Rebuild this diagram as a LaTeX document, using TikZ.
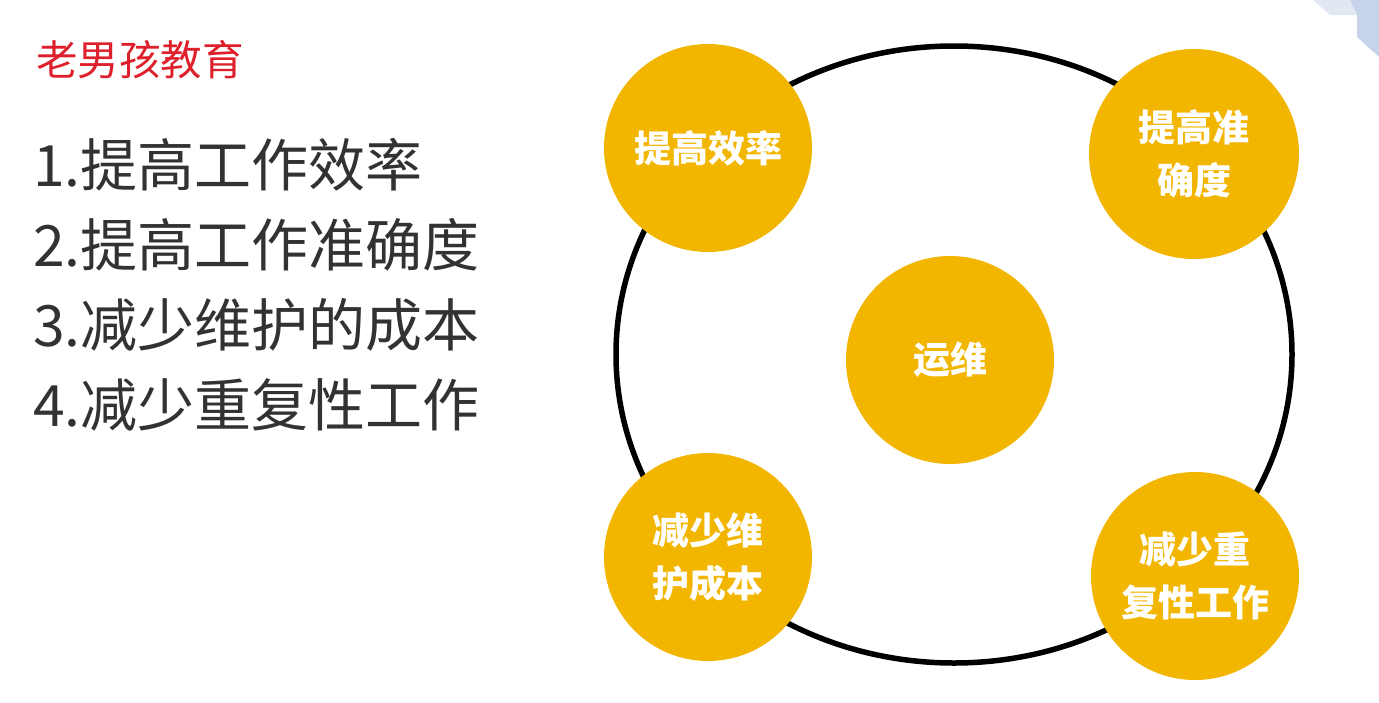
\documentclass[tikz,border=0pt]{standalone}
\usepackage{fontspec}
\newfontfamily\cjk{Noto Sans CJK SC}
\usetikzlibrary{shapes.geometric}
\definecolor{gold}{RGB}{242,182,0}
\definecolor{titlered}{RGB}{222,32,44}
\definecolor{listgray}{RGB}{50,50,50}
\definecolor{decolight}{RGB}{226,232,242}
\definecolor{decodark}{RGB}{198,211,232}
\tikzset{
  ball/.style={circle, fill=gold, draw=none, inner sep=0pt, minimum size=208pt,
    text=white, align=center, font=\cjk\bfseries\fontsize{37}{53}\selectfont},
  listitem/.style={anchor=west, inner sep=0pt, text=listgray,
    font=\cjk\fontsize{57}{60}\selectfont},
  ring/.style={ellipse, draw=black, line width=5.5pt, inner sep=0pt,
    minimum width=676pt, minimum height=617pt}
}
\begin{document}
\begin{tikzpicture}[x=1pt,y=-1pt]
\useasboundingbox (0,0) rectangle (1379,702);
\fill[white] (0,0) rectangle (1379,702);
% corner decoration
\fill[decolight] (1313,0) -- (1350,0) -- (1357,15) -- (1330,15) -- cycle;
\fill[decodark] (1350,0) -- (1379,0) -- (1379,57) -- (1357,37) -- (1357,15) -- cycle;
% title and list
\node[anchor=west, inner sep=0pt, text=titlered, font=\cjk\fontsize{41.5}{44}\selectfont] (title) at (36,60) {老男孩教育};
\node[listitem] (l1) at (33,165) {1.提高工作效率};
\node[listitem] (l2) at (33,245) {2.提高工作准确度};
\node[listitem] (l3) at (33,325) {3.减少维护的成本};
\node[listitem] (l4) at (33,405) {4.减少重复性工作};
% ring
\node[ring] (ring) at (954,354.5) {};
% balls
\node[ball] (center) at (950,360) {运维};
\node[ball] (tl) at (708,148) {提高效率};
\node[ball, minimum size=210pt] (tr) at (1194,154) {提高准\\确度};
\node[ball] (bl) at (708,557) {减少维\\护成本};
\node[ball] (br) at (1195,576) {减少重\\复性工作};
\end{tikzpicture}
\end{document}
